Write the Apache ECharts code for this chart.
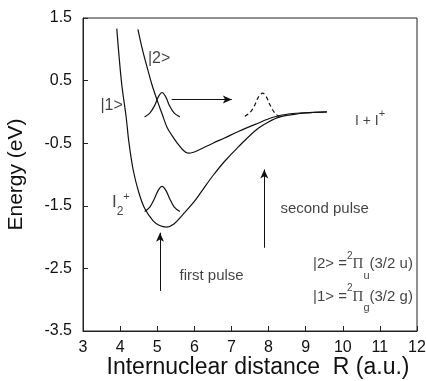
<!DOCTYPE html>
<html>
<head>
<meta charset="utf-8">
<script src="https://cdn.jsdelivr.net/npm/echarts@6/dist/echarts.min.js"></script>
<style>html,body{margin:0;padding:0;background:#fff;}#c{width:426px;height:381px;}</style>
</head>
<body>
<div id="c"></div>
<script>
// ---- data ----
const xTicks = [3, 4, 5, 6, 7, 8, 9, 10, 11, 12];
const yTicks = [-3.5, -2.5, -1.5, -0.5, 0.5, 1.5];

// lower potential curve |1> (I2+ ground state)
const curve1X = [3.91, 4.04, 4.16, 4.24, 4.35, 4.50, 4.66, 4.89, 5.05, 5.25, 5.45, 5.69, 6.00, 6.23, 6.50, 6.80, 7.20, 7.68, 8.00, 8.31, 8.80, 9.20, 9.57];
const curve1Y = [1.33, 0.46, -0.07, -0.50, -0.92, -1.28, -1.54, -1.74, -1.81, -1.84, -1.79, -1.64, -1.43, -1.24, -1.02, -0.80, -0.55, -0.28, -0.16, -0.08, -0.03, -0.01, 0.00];

// upper potential curve |2>
const curve2X = [4.48, 4.60, 4.725, 4.85, 4.99, 5.13, 5.26, 5.40, 5.53, 5.68, 5.83, 6.00, 6.15, 6.50, 6.80, 7.20, 7.68, 8.10, 8.58, 9.10, 9.57];
const curve2Y = [1.32, 1.00, 0.72, 0.45, 0.20, -0.03, -0.24, -0.38, -0.49, -0.60, -0.66, -0.64, -0.60, -0.50, -0.42, -0.31, -0.19, -0.09, -0.03, -0.01, 0.00];

// wavepacket on |1> after first pulse (upper)
const packetUpX = [4.66, 4.80, 4.93, 5.03, 5.13, 5.23, 5.33, 5.46, 5.61];
const packetUpY = [-0.08, -0.02, 0.10, 0.24, 0.31, 0.24, 0.10, -0.02, -0.08];

// wavepacket on I2+ (lower)
const packetLowX = [4.66, 4.80, 4.93, 5.03, 5.13, 5.23, 5.33, 5.46, 5.61];
const packetLowY = [-1.59, -1.52, -1.38, -1.25, -1.19, -1.25, -1.38, -1.52, -1.59];

// dashed wavepacket (moved)
const packetDashX = [7.36, 7.50, 7.63, 7.73, 7.84, 7.94, 8.04, 8.16, 8.29];
const packetDashY = [-0.07, -0.01, 0.11, 0.24, 0.30, 0.24, 0.11, -0.01, -0.08];

// arrows: [x1, y1, x2, y2]
const arrowMove = [5.39, 0.20, 7.01, 0.20];
const arrowFirst = [5.075, -2.86, 5.075, -1.93];
const arrowSecond = [7.885, -2.17, 7.885, -0.92];

// annotation texts and their anchors (data coords, left edge / vertical centre)
const labelTexts = [
  '|2>',
  '|1>',
  '{m|I}{sub|2}{sup|+}',
  '{m|I + I}{sup|+}',
  'second pulse',
  'first pulse',
  '{m||2> =}{sup|2}{pi|Π}{sub|u}{m|(3/2 u)}',
  '{m||1> =}{sup|2}{pi|Π}{sub|g}{m|(3/2 g)}'
];
const labelX = [4.75, 3.47, 3.78, 10.33, 8.32, 5.60, 9.20, 9.20];
const labelY = [0.85, 0.10, -1.45, -0.14, -1.55, -2.62, -2.43, -2.95];

// ---- chart ----
const zip = (xs, ys) => xs.map((x, i) => [x, ys[i]]);
const sans = "'Liberation Sans', Arial, sans-serif";
const black = '#111';

const legendRich = {
  m: { fontSize: 15, fontFamily: sans, color: black, lineHeight: 34 },
  pi: { fontSize: 15, fontFamily: "'Liberation Serif', serif", color: black, lineHeight: 34 },
  sup: { fontSize: 10, fontFamily: sans, color: black, verticalAlign: 'top', padding: [4, 0, 0, 0] },
  sub: { fontSize: 11, fontFamily: sans, color: black, verticalAlign: 'bottom' }
};
const ionRich = {
  m: { fontSize: 17, fontFamily: sans, color: black, lineHeight: 30 },
  sub: { fontSize: 12, fontFamily: sans, color: black, verticalAlign: 'bottom' },
  sup: { fontSize: 11, fontFamily: sans, color: black, verticalAlign: 'top', padding: [4, 0, 0, 0] }
};
const atomRich = {
  m: { fontSize: 14, fontFamily: sans, color: black, lineHeight: 24 },
  sup: { fontSize: 11, fontFamily: sans, color: black, verticalAlign: 'top' }
};
const labelRich = [null, null, ionRich, atomRich, null, null, legendRich, legendRich];
const labelSize = [16, 16, 15, 14, 15, 15, 15, 15];

function lineSeries(name, xs, ys, dashed) {
  return {
    name: name, type: 'line', data: zip(xs, ys), smooth: 0.35, symbol: 'none',
    lineStyle: { color: black, width: 1.2, type: dashed ? [4, 3] : 'solid' },
    silent: true, animation: false, z: 3
  };
}

const arrowData = [arrowMove, arrowFirst, arrowSecond].map(a => [
  { coord: [a[0], a[1]] }, { coord: [a[2], a[3]] }
]);

const option = {
  animation: false,
  backgroundColor: '#fff',
  grid: {
    left: 83, right: 9, top: 18, bottom: 50, containLabel: false, outerBoundsMode: 'none',
    show: true, borderColor: '#222', borderWidth: 1
  },
  xAxis: {
    type: 'value', min: 3, max: 12, interval: 1,
    name: 'Internuclear distance  R (a.u.)', nameLocation: 'middle', nameGap: 25, nameMoveOverlap: false,
    nameTextStyle: { fontSize: 23, fontFamily: sans, color: black, padding: [0, 0, 0, 16] },
    axisLine: { show: true, onZero: false, lineStyle: { color: '#222', width: 1 } },
    axisTick: { show: true, inside: true, length: 5, lineStyle: { color: '#222' }, customValues: xTicks },
    axisLabel: { fontSize: 16, fontFamily: sans, color: black, margin: 9, customValues: xTicks },
    splitLine: { show: false }
  },
  yAxis: {
    type: 'value', min: -3.5, max: 1.5,
    name: 'Energy (eV)', nameLocation: 'middle', nameGap: 50, nameMoveOverlap: false,
    nameTextStyle: { fontSize: 21, fontFamily: sans, color: black, padding: [0, 0, 6, 0] },
    axisLine: { show: true, onZero: false, lineStyle: { color: '#222', width: 1 } },
    axisTick: { show: true, inside: true, length: 5, lineStyle: { color: '#222' }, customValues: yTicks },
    axisLabel: { fontSize: 16, fontFamily: sans, color: black, margin: 11, customValues: yTicks },
    splitLine: { show: false }
  },
  series: [
    lineSeries('|1>', curve1X, curve1Y),
    lineSeries('|2>', curve2X, curve2Y),
    lineSeries('packet up', packetUpX, packetUpY),
    lineSeries('packet low', packetLowX, packetLowY),
    lineSeries('packet dashed', packetDashX, packetDashY, true),
    {
      name: 'arrows', type: 'line', data: [], silent: true,
      markLine: {
        silent: true, animation: false,
        symbol: ['none', 'arrow'], symbolSize: [6, 9],
        label: { show: false },
        lineStyle: { color: black, width: 1, type: 'solid' },
        emphasis: { disabled: true },
        data: arrowData
      }
    },
    {
      name: 'labels', type: 'scatter', symbolSize: 0, silent: true, z: 5,
      data: labelTexts.map((t, i) => ({
        value: [labelX[i], labelY[i]],
        label: {
          show: true, position: 'right', distance: 0,
          formatter: t,
          fontSize: labelSize[i],
          fontFamily: sans,
          color: black,
          rich: labelRich[i] || {}
        }
      }))
    }
  ]
};

const chart = echarts.init(document.getElementById('c'), null, { renderer: 'canvas' });
chart.setOption(option);
</script>
</body>
</html>
